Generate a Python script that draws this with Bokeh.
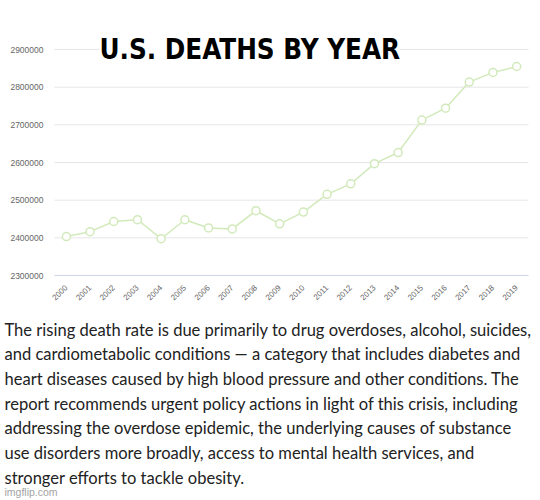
import math

from bokeh.embed import file_html
from bokeh.models import BasicTickFormatter, ColumnDataSource, FixedTicker, Label, LinearAxis, Range1d
from bokeh.plotting import figure
from bokeh.resources import INLINE

# Annual U.S. deaths
years = list(range(2000, 2020))
deaths = [2403351, 2416425, 2443387, 2448288, 2397615, 2448017, 2426264, 2423712,
          2471984, 2437163, 2468435, 2515458, 2543279, 2596993, 2626418, 2712630,
          2744248, 2813503, 2839205, 2854838]
y_ticks = [2300000, 2400000, 2500000, 2600000, 2700000, 2800000, 2900000]

title_text = "U.S. DEATHS BY YEAR"
paragraph = [
    "The rising death rate is due primarily to drug overdoses, alcohol, suicides,",
    "and cardiometabolic conditions \u2014 a category that includes diabetes and",
    "heart diseases caused by high blood pressure and other conditions. The",
    "report recommends urgent policy actions in light of this crisis, including",
    "addressing the overdose epidemic, the underlying causes of substance",
    "use disorders more broadly, access to mental health services, and",
    "stronger efforts to tackle obesity.",
]
watermark = "imgflip.com"

LINE_GREEN = "#d2eabb"

# Canvas geometry: the plotting area occupies x 54..528 and y 49..275 of a
# 540x500 page; the frame spans the whole page so the text can sit below it.
W, H = 540, 500
left, right, top, bottom = 54, 528, 49, 275
x_lo, x_hi = years[0] - 0.5, years[-1] + 0.5
px_per_year = (right - left) / (x_hi - x_lo)
px_per_val = (bottom - top) / (y_ticks[-1] - y_ticks[0])

x_range = Range1d(x_lo - left / px_per_year, x_hi + (W - right) / px_per_year)
y_range = Range1d(y_ticks[0] - (H - bottom) / px_per_val, y_ticks[-1] + top / px_per_val)

p = figure(width=W, height=H, x_range=x_range, y_range=y_range,
           x_axis_location=None, y_axis_location=None,
           output_backend="svg", toolbar_location=None, min_border=0)
p.outline_line_color = None
p.background_fill_color = "white"
p.border_fill_color = "white"
p.grid.visible = False

# Horizontal gridlines confined to the plotting area
p.segment(x0=[x_lo] * len(y_ticks), x1=[x_hi] * len(y_ticks), y0=y_ticks, y1=y_ticks,
          line_color="#e6e6e6", line_width=1)

src = ColumnDataSource(dict(year=years, deaths=deaths))
p.line("year", "deaths", source=src, line_color=LINE_GREEN, line_width=1.5)
p.scatter("year", "deaths", source=src, size=8, fill_color="white",
          line_color=LINE_GREEN, line_width=1.5)

yaxis = LinearAxis(fixed_location=x_lo, bounds=(y_ticks[0], y_ticks[-1]),
                   ticker=FixedTicker(ticks=y_ticks),
                   formatter=BasicTickFormatter(use_scientific=False))
yaxis.axis_line_color = None
yaxis.major_tick_line_color = None
yaxis.minor_tick_line_color = None
yaxis.major_label_text_color = "#666666"
yaxis.major_label_text_font = "Liberation Sans"
yaxis.major_label_text_font_size = "8.5px"
yaxis.major_label_standoff = 5
p.add_layout(yaxis, "left")

xaxis = LinearAxis(fixed_location=y_ticks[0], bounds=(x_lo, x_hi),
                   ticker=FixedTicker(ticks=years),
                   formatter=BasicTickFormatter(use_scientific=False))
xaxis.axis_line_color = "#ccd6eb"
xaxis.major_tick_line_color = None
xaxis.minor_tick_line_color = None
xaxis.major_label_orientation = math.pi / 4
xaxis.major_label_text_color = "#666666"
xaxis.major_label_text_font = "Liberation Sans"
xaxis.major_label_text_font_size = "8px"
xaxis.major_label_standoff = 5
p.add_layout(xaxis, "below")

# Title over the top of the chart, on a white box that hides the gridline
p.add_layout(Label(x=99, y=H - 48.5, x_units="screen", y_units="screen",
                   text=title_text, text_font="DejaVu Sans Condensed",
                   text_font_style="bold", text_font_size="27.5px",
                   text_color="black", text_baseline="alphabetic",
                   background_fill_color="white"))

# Paragraph below the chart
first_baseline, pitch = 329, 24.7
for i, line in enumerate(paragraph):
    p.add_layout(Label(x=4, y=H - (first_baseline + i * pitch),
                       x_units="screen", y_units="screen",
                       text=line, text_font="Lato", text_font_size="16.55px",
                       text_color="#222222", text_baseline="alphabetic"))

p.add_layout(Label(x=4, y=H - 491, x_units="screen", y_units="screen",
                   text=watermark, text_font="Liberation Sans",
                   text_font_size="10.5px", text_color="#a3a3a3",
                   text_baseline="middle"))

open("out.html", "w").write(file_html(p, INLINE))
